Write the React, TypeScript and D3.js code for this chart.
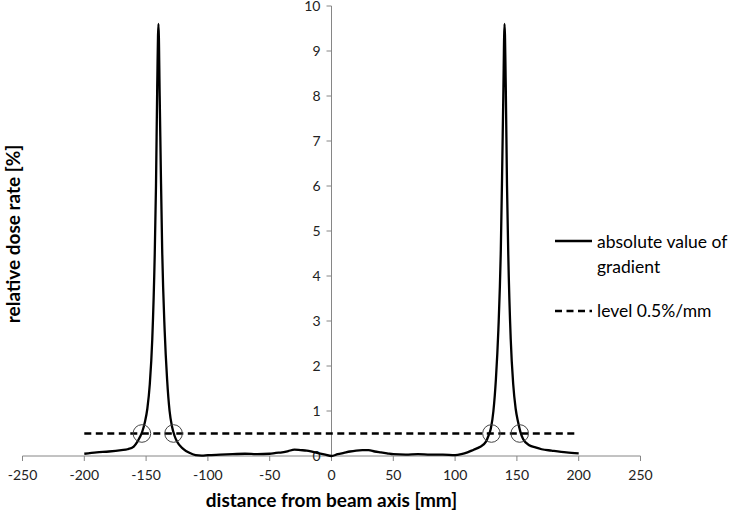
import React from "react";
import * as d3 from "d3";

const distance = [
  -200, -190, -180, -170, -165, -160, -157, -155, -153, -151, -149, -147, -145, -143, -142, -141, -140,
  -139, -138, -137, -135, -133, -131, -129, -127, -125, -120, -115, -110, -105, -100, -90, -80, -70, -60,
  -50, -45, -40, -35, -30, -25, -20, -15, -10, -5, 0, 5, 10, 15, 20, 25, 30, 35, 40, 45, 50, 60, 70, 80,
  90, 100, 105, 110, 115, 120, 125, 127, 129, 131, 133, 135, 137, 138, 139, 140, 141, 142, 143, 145, 147,
  149, 151, 153, 155, 160, 165, 170, 178, 190, 200,
];
const gradient = [
  0.05, 0.08, 0.1, 0.13, 0.15, 0.21, 0.32, 0.42, 0.55, 0.75, 1.05, 1.6, 2.6, 4.5, 6.0, 8.2, 9.6,
  8.0, 6.2, 4.6, 2.8, 1.7, 1.0, 0.65, 0.45, 0.32, 0.16, 0.07, 0.02, 0.01, 0.02, 0.03, 0.04, 0.05, 0.04,
  0.05, 0.07, 0.08, 0.11, 0.14, 0.13, 0.12, 0.09, 0.06, 0.03, 0.0, 0.04, 0.07, 0.1, 0.12, 0.13, 0.13, 0.1, 0.08,
  0.06, 0.04, 0.03, 0.04, 0.03, 0.03, 0.02, 0.04, 0.08, 0.14, 0.2, 0.32, 0.45, 0.62, 1.0, 1.7, 2.8, 4.6,
  6.2, 8.0, 9.6, 8.2, 6.0, 4.5, 2.6, 1.6, 1.05, 0.75, 0.52, 0.38, 0.24, 0.19, 0.15, 0.12, 0.08, 0.06,
];
const levelX = [-200, 200];
const levelValue = 0.5;
const crossings = [-153.4, -127.8, 129.4, 152.3];
const xTicks = [-250, -200, -150, -100, -50, 0, 50, 100, 150, 200, 250];
const yTicks = [0, 1, 2, 3, 4, 5, 6, 7, 8, 9, 10];
const legendLabels = [["absolute value of", "gradient"], ["level 0.5%/mm"]];

const FONT = "Lato, 'Open Sans', sans-serif";
const AXIS = "#868686";

export default function App() {
  const x = d3.scaleLinear().domain([-250, 250]).range([22.5, 640.5]);
  const y = d3.scaleLinear().domain([0, 10]).range([456, 6]);
  const pts: [number, number][] = distance.map((d, i) => [d, gradient[i]]);
  const line = d3
    .line<[number, number]>()
    .x((d) => x(d[0]))
    .y((d) => y(d[1]))
    .curve(d3.curveMonotoneX);
  const x0 = x(0);
  const y0 = y(0);
  return (
    <svg
      width={738}
      height={517}
      style={{ position: "absolute", left: 0, top: 0, background: "#fff" }}
      fontFamily={FONT}
    >
      {/* x axis */}
      <line x1={x(-250)} x2={x(250)} y1={y0} y2={y0} stroke={AXIS} strokeWidth={1} />
      {xTicks.map((t) => (
        <g key={"xt" + t}>
          <line x1={x(t)} x2={x(t)} y1={y0} y2={y0 + 5} stroke={AXIS} />
          <text x={x(t)} y={y0 + 24} textAnchor="middle" fontSize={14} fill="#222">
            {t}
          </text>
        </g>
      ))}
      {/* y axis */}
      <line x1={x0} x2={x0} y1={y(10)} y2={y0} stroke={AXIS} strokeWidth={1} />
      {yTicks.map((t) => (
        <g key={"yt" + t}>
          <line x1={x0 - 5} x2={x0} y1={y(t)} y2={y(t)} stroke={AXIS} />
          <text x={x0 - 11} y={y(t) + 5} textAnchor="end" fontSize={14} fill="#222">
            {t}
          </text>
        </g>
      ))}
      {/* level line */}
      <line
        x1={x(levelX[0])}
        x2={x(levelX[1])}
        y1={y(levelValue)}
        y2={y(levelValue)}
        stroke="#000"
        strokeWidth={2.6}
        strokeDasharray="7 4.5"
      />
      {/* gradient curve */}
      <path d={line(pts) || ""} fill="none" stroke="#000" strokeWidth={2.3} strokeLinejoin="round" />
      {/* crossing circles */}
      {crossings.map((c) => (
        <circle key={"c" + c} cx={x(c)} cy={y(levelValue)} r={8.8} fill="none" stroke="#444" strokeWidth={1} />
      ))}
      {/* legend */}
      <line x1={555} x2={592} y1={241} y2={241} stroke="#000" strokeWidth={2.3} />
      <text x={597} y={248} fontSize={17.5} fill="#000">
        {legendLabels[0][0]}
      </text>
      <text x={597} y={273} fontSize={17.5} fill="#000">
        {legendLabels[0][1]}
      </text>
      <line x1={555} x2={592} y1={311} y2={311} stroke="#000" strokeWidth={2.6} strokeDasharray="7 4.5" />
      <text x={597} y={317} fontSize={17.5} fill="#000">
        {legendLabels[1][0]}
      </text>
      {/* axis titles */}
      <text x={(x(-250) + x(250)) / 2} y={507} textAnchor="middle" fontSize={19} fontWeight="bold" fill="#000">
        distance from beam axis [mm]
      </text>
      <text
        transform={`translate(20, ${234}) rotate(-90)`}
        textAnchor="middle"
        fontSize={19}
        fontWeight="bold"
        fill="#000"
      >
        relative dose rate [%]
      </text>
    </svg>
  );
}
